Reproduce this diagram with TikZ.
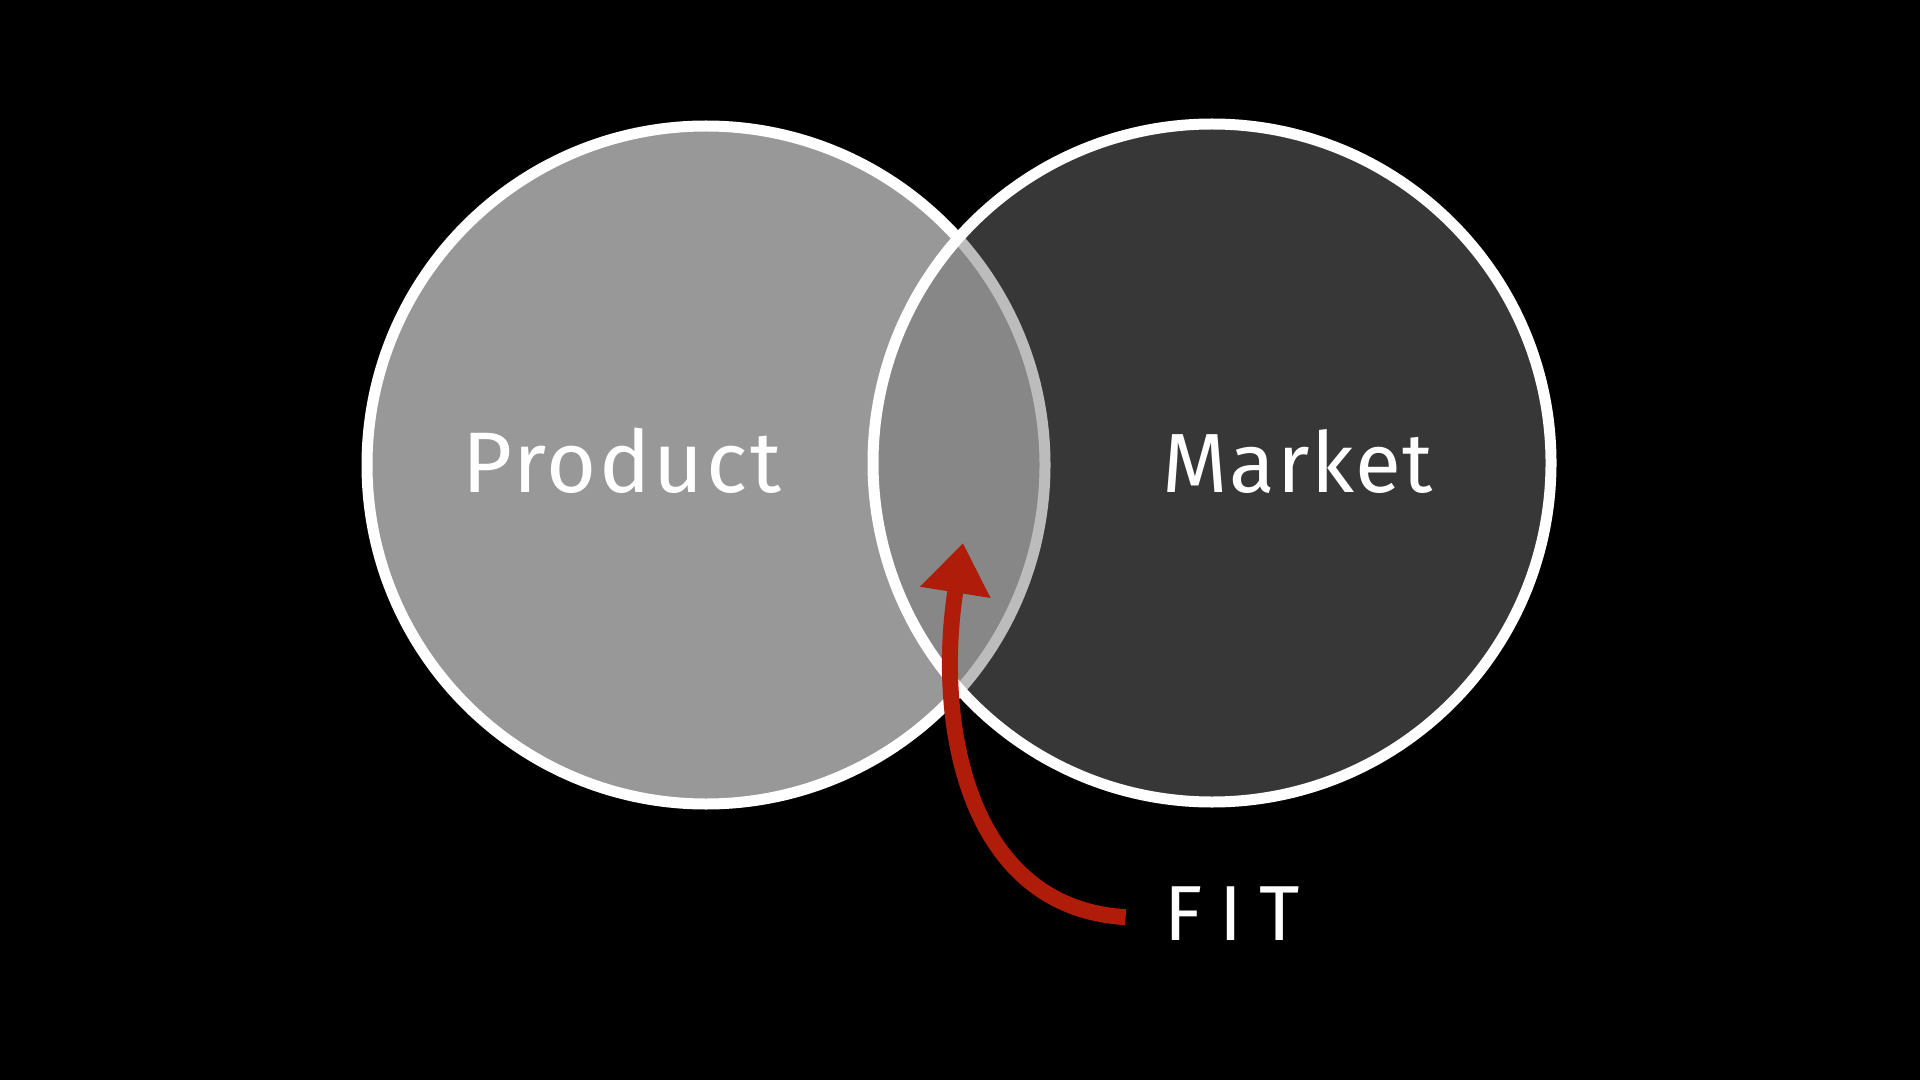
\documentclass[tikz,border=0pt]{standalone}
\usepackage{fontspec}
\setmainfont{Fira Sans}
\usetikzlibrary{arrows.meta}
\definecolor{prodfill}{RGB}{152,152,152}
\definecolor{mktfill}{RGB}{117,117,117}
\definecolor{fitred}{RGB}{176,28,10}
\tikzset{
  venn/.style={circle, inner sep=0pt, minimum size=339pt, draw=white, line width=5.5pt},
  label/.style={text=white, inner sep=0pt, anchor=base},
  fitarrow/.style={draw=fitred, line width=8pt, -{Triangle[length=25pt, width=34pt]}},
}
\begin{document}
\begin{tikzpicture}[x=0.5pt, y=-0.5pt]
  \fill[black] (0,0) rectangle (1920,1080);
  \useasboundingbox (0,0) rectangle (1920,1080);
  \node[venn, fill=prodfill] (prod) at (706,465) {};
  \node[venn, fill=mktfill, fill opacity=0.477, draw opacity=1] (mkt) at (1212,463) {};
  \node[label, font=\fontsize{43}{47}\selectfont\addfontfeature{LetterSpace=3}] (ptext) at (622,492) {Product};
  \node[label, font=\fontsize{42}{46}\selectfont\addfontfeature{LetterSpace=2}] (mtext) at (1298,492) {Market};
  \node[label, font=\fontsize{39}{43}\selectfont\addfontfeature{LetterSpace=22}] (fit) at (1232,940) {FIT};
  \coordinate (tip) at (963,543);
  \draw[fitarrow] ([xshift=-19pt,yshift=-2pt]fit.west) .. controls (965,908) and (935,720) .. (tip);
\end{tikzpicture}
\end{document}
